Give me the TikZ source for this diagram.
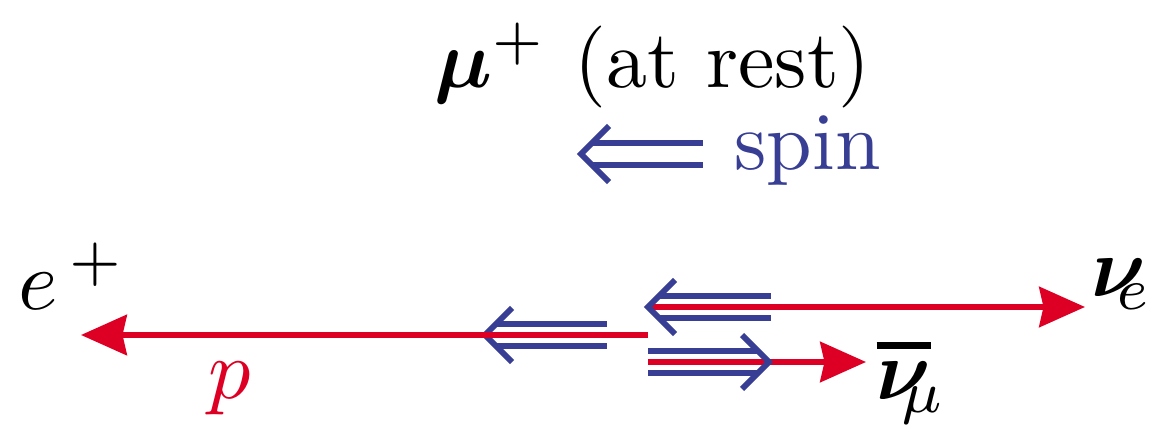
\documentclass[tikz,border=0pt]{standalone}
\usepackage{amsmath}
\usetikzlibrary{arrows.meta}
\definecolor{myred}{RGB}{222,0,36}
\definecolor{myblue}{RGB}{55,62,148}
\newcommand{\thickbar}[1]{\mathord{\vbox{\hrule height 0.8pt\kern 1.6pt\hbox{$#1$}}}}
\begin{document}
\begin{tikzpicture}[x=0.01cm,y=-0.01cm,
  redline/.style={draw=myred, line width=1.7pt},
  redarrow/.style={redline, -{Stealth[length=13pt,width=11.4pt,inset=1.2pt]}},
  bluestroke/.style={draw=myblue, line width=1.7pt, miter limit=10},
  lbl/.style={inner sep=0pt, anchor=base west, scale=2.4, transform shape},
  ttl/.style={inner sep=0pt, anchor=base west, scale=2.33, transform shape}]
\useasboundingbox (0,0) rectangle (1149,428);

% labels
\node[ttl] (title) at (433,88) {$\boldsymbol{\mu}^{+}$ (at rest)};
\node[ttl, text=myblue] (spin) at (733,170) {spin};
\node[lbl] (eplus) at (17,310) {$e^{\,+}$};
\node[lbl, text=myred] (p) at (207,399) {$p$};
\node[lbl] (nue) at (1090,297) {$\boldsymbol{\nu}_{\kern-3.5pt e}$};
\node[lbl] (numu) at (875,400) {$\thickbar{\boldsymbol{\nu}}_{\kern-3.5pt\mu}$};

% spin double arrow (left)
\coordinate (s1) at (592,143); \coordinate (s2) at (703,143);
\coordinate (s3) at (592,165); \coordinate (s4) at (703,165);
\coordinate (sa) at (609,126); \coordinate (sv) at (581,154); \coordinate (sb) at (609,182);
\draw[bluestroke] (s1) -- (s2);
\draw[bluestroke] (s3) -- (s4);
\draw[bluestroke] (sa) -- (sv) -- (sb);

% upper: nu_e
\coordinate (u0) at (648,307); \coordinate (uend) at (1085,307);
\draw[redarrow] (u0) -- (uend);
\coordinate (u1) at (659,296); \coordinate (u2) at (771,296);
\coordinate (u3) at (659,318); \coordinate (u4) at (771,318);
\coordinate (ua) at (675,280); \coordinate (ub) at (675,334);
\draw[bluestroke] (u1) -- (u2);
\draw[bluestroke] (u3) -- (u4);
\draw[bluestroke] (ua) -- (u0) -- (ub);

% middle: positron
\coordinate (m0) at (648,335); \coordinate (mend) at (81,335);
\coordinate (mv) at (485,335);
\coordinate (m1) at (496,324); \coordinate (m2) at (607,324);
\coordinate (m3) at (496,346); \coordinate (m4) at (607,346);
\coordinate (ma) at (512,308); \coordinate (mb) at (512,362);
\draw[bluestroke] (m1) -- (m2);
\draw[bluestroke] (m3) -- (m4);
\draw[bluestroke] (ma) -- (mv) -- (mb);
\draw[redarrow] (m0) -- (mend);

% lower: anti nu_mu
\coordinate (l0) at (648,362); \coordinate (lend) at (866,362);
\draw[redarrow] (l0) -- (lend);
\coordinate (lv) at (769,362);
\coordinate (l1) at (648,351); \coordinate (l2) at (758,351);
\coordinate (l3) at (648,373); \coordinate (l4) at (758,373);
\coordinate (la) at (742,335); \coordinate (lb) at (742,389);
\draw[bluestroke] (l1) -- (l2);
\draw[bluestroke] (l3) -- (l4);
\draw[bluestroke] (la) -- (lv) -- (lb);
\end{tikzpicture}
\end{document}
